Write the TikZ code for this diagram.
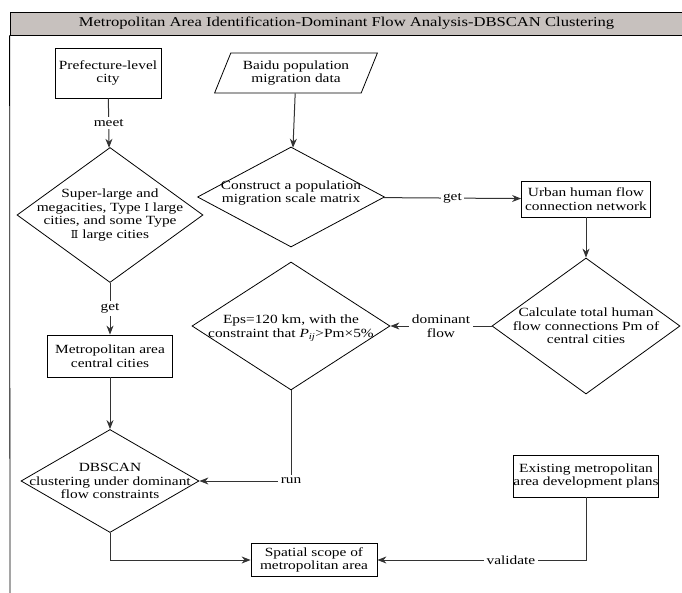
\documentclass[tikz,border=0pt]{standalone}
\usepackage{fontspec}
\setmainfont{Liberation Serif}[FakeStretch=1.23]
\newfontfamily\romfont{DejaVu Serif}
\usetikzlibrary{shapes.geometric,arrows.meta}
\definecolor{headgray}{RGB}{199,193,190}
\begin{document}
\begin{tikzpicture}
[x=1pt, y=-1pt, font=\fontsize{12.5}{13.5}\selectfont,
  boxdecorate/.style={shape=rectangle,draw,line width=0.8pt,inner sep=0pt,
    align=center},
  decidedecorate/.style={shape=diamond,draw,line width=0.8pt,inner sep=0pt},
  datadecorate/.style={shape=trapezium,trapezium left angle=62,
    trapezium right angle=118,trapezium stretches=true,draw,
    line width=0.8pt,inner sep=0pt,align=center},
  textdecorate/.style={align=center,inner sep=0pt},
  linedecorate/.style={draw=black!80,line width=1pt,
    -{Stealth[length=9pt,width=7pt]}},
  labeldecorate/.style={fill=white,inner sep=2.5pt,align=center}]
\useasboundingbox (0,0) rectangle (682,593);
%% frame and title
\node (head) at (346.5,23.5) [draw,line width=0.8pt,fill=headgray,
  minimum width=673,minimum height=23,inner sep=0pt,
  font=\fontsize{13.5}{14}\selectfont]
  {Metropolitan Area Identification-Dominant Flow Analysis-DBSCAN Clustering};
\coordinate (frameend) at (10,600);
\draw[line width=0.8pt] (head.south west) -- (frameend);
%% boxes
\foreach \nodename/\x/\y/\w/\h/\txt in {
  pref/108/73/106/50/{Prefecture-level\\city},
  urban/586/199/129/36/{Urban human flow\\connection network},
  cen/110/356/125/42/{Metropolitan area\\central cities},
  plan/586/476/142/42/{Existing metropolitan\\area development plans},
  scope/314/560/126/33/{Spatial scope of\\metropolitan area}}
{
  \node (\nodename) at (\x,\y) [boxdecorate,minimum width=\w,
    minimum height=\h] {\txt};
}
\node (data) at (296,73) [datadecorate,minimum width=163,
  minimum height=40] {Baidu population\\migration data};
%% decisions
\foreach \nodename/\x/\y/\w/\h in {d1/110/215/186/135, d2/291/197/187/100,
  d3/586/326/188/136, d4/291/326/198/128, d5/110/481/178/103}
{
  \node (\nodename) at (\x,\y) [decidedecorate,minimum width=\w,
    minimum height=\h] {};
}
\node (d1txt) at (d1) [textdecorate] {Super-large and\\megacities, Type
  {\romfont\fontsize{11}{13.5}\selectfont Ⅰ} large\\cities, and some
  Type\\{\romfont\fontsize{11}{13.5}\selectfont Ⅱ} large cities};
\node (d2txt) at ([yshift=4]d2) [textdecorate]
  {Construct a population\\migration scale matrix};
\node (d3txt) at (d3) [textdecorate]
  {Calculate total human\\flow connections Pm of\\central cities};
\node (d4txt) at ([yshift=-2]d4) [textdecorate] {Eps=120 km, with the\\
  constraint that \textit{P}\textsubscript{\textit{ij}}>Pm×5\%};
\node (d5txt) at (d5) [textdecorate]
  {DBSCAN\\clustering under dominant\\flow constraints};
%% edges or lines
\draw[linedecorate] (pref) -- node[labeldecorate] {meet} (d1);
\draw[linedecorate] (data) -- (d2);
\draw[linedecorate] (d2) -- node[labeldecorate] {get} (urban);
\draw[linedecorate] (urban) -- (d3);
\draw[linedecorate] (d3) -- node[labeldecorate] {dominant\\flow} (d4);
\draw[linedecorate] (d1) -- node[labeldecorate] {get} (cen);
\draw[linedecorate] (cen) -- (d5);
\draw[linedecorate] (d4) |- node[labeldecorate] {run} (d5);
\draw[linedecorate] (d5) |- (scope);
\draw[linedecorate] (plan) |- node[labeldecorate,pos=0.68] {validate} (scope);
\end{tikzpicture}
\end{document}
